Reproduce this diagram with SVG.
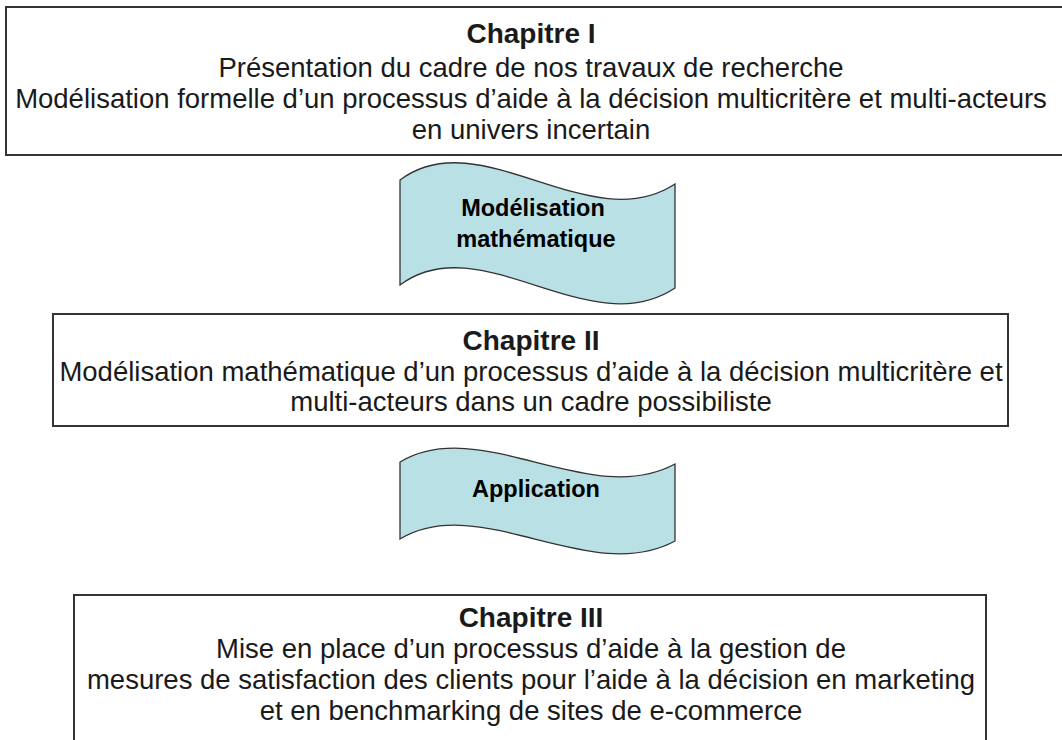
<svg xmlns="http://www.w3.org/2000/svg" width="1062" height="740" viewBox="0 0 1062 740">
<style>
.box{fill:#ffffff;stroke:#333333;stroke-width:2}
.wave{fill:#b9e0e4;stroke:#333333;stroke-width:1.3}
.t{font-family:"Liberation Sans",Arial,sans-serif;fill:#1a1a1a;text-anchor:middle}
.title{font-size:28px;font-weight:bold}
.body{font-size:27.5px}
.band{font-size:23.5px;font-weight:bold;fill:#000000}
</style>
<rect width="1062" height="740" fill="#ffffff"/>
<g id="connectors">
<g id="banner1">
<path class="wave" d="M400,180 C480,120 590,240 675,184 L675,288 C590,345 480,225 400,285 Z"/>
<text class="t band" x="533" y="216">Modélisation</text>
<text class="t band" x="536" y="247">mathématique</text>
</g>
<g id="banner2">
<path class="wave" d="M400,462 C480,414 590,510 675,464 L675,541 C590,587 480,491 400,539 Z"/>
<text class="t band" x="536" y="497">Application</text>
</g>
</g>
<g id="chap1">
<rect class="box" x="6" y="7" width="1062" height="148"/>
<text class="t title" x="531" y="43">Chapitre I</text>
<text class="t body" x="531" y="77">Présentation du cadre de nos travaux de recherche</text>
<text class="t body" x="531" y="108">Modélisation formelle d’un processus d’aide à la décision multicritère et multi-acteurs</text>
<text class="t body" x="531" y="139">en univers incertain</text>
</g>
<g id="chap2">
<rect class="box" x="53" y="314" width="955" height="112"/>
<text class="t title" x="531" y="350">Chapitre II</text>
<text class="t body" x="531" y="381">Modélisation mathématique d’un processus d’aide à la décision multicritère et</text>
<text class="t body" x="531" y="411">multi-acteurs dans un cadre possibiliste</text>
</g>
<g id="chap3">
<rect class="box" x="74" y="595" width="912" height="150"/>
<text class="t title" x="531" y="627">Chapitre III</text>
<text class="t body" x="531" y="658">Mise en place d’un processus d’aide à la gestion de</text>
<text class="t body" x="531" y="689">mesures de satisfaction des clients pour l’aide à la décision en marketing</text>
<text class="t body" x="531" y="720">et en benchmarking de sites de e-commerce</text>
</g>
</svg>
